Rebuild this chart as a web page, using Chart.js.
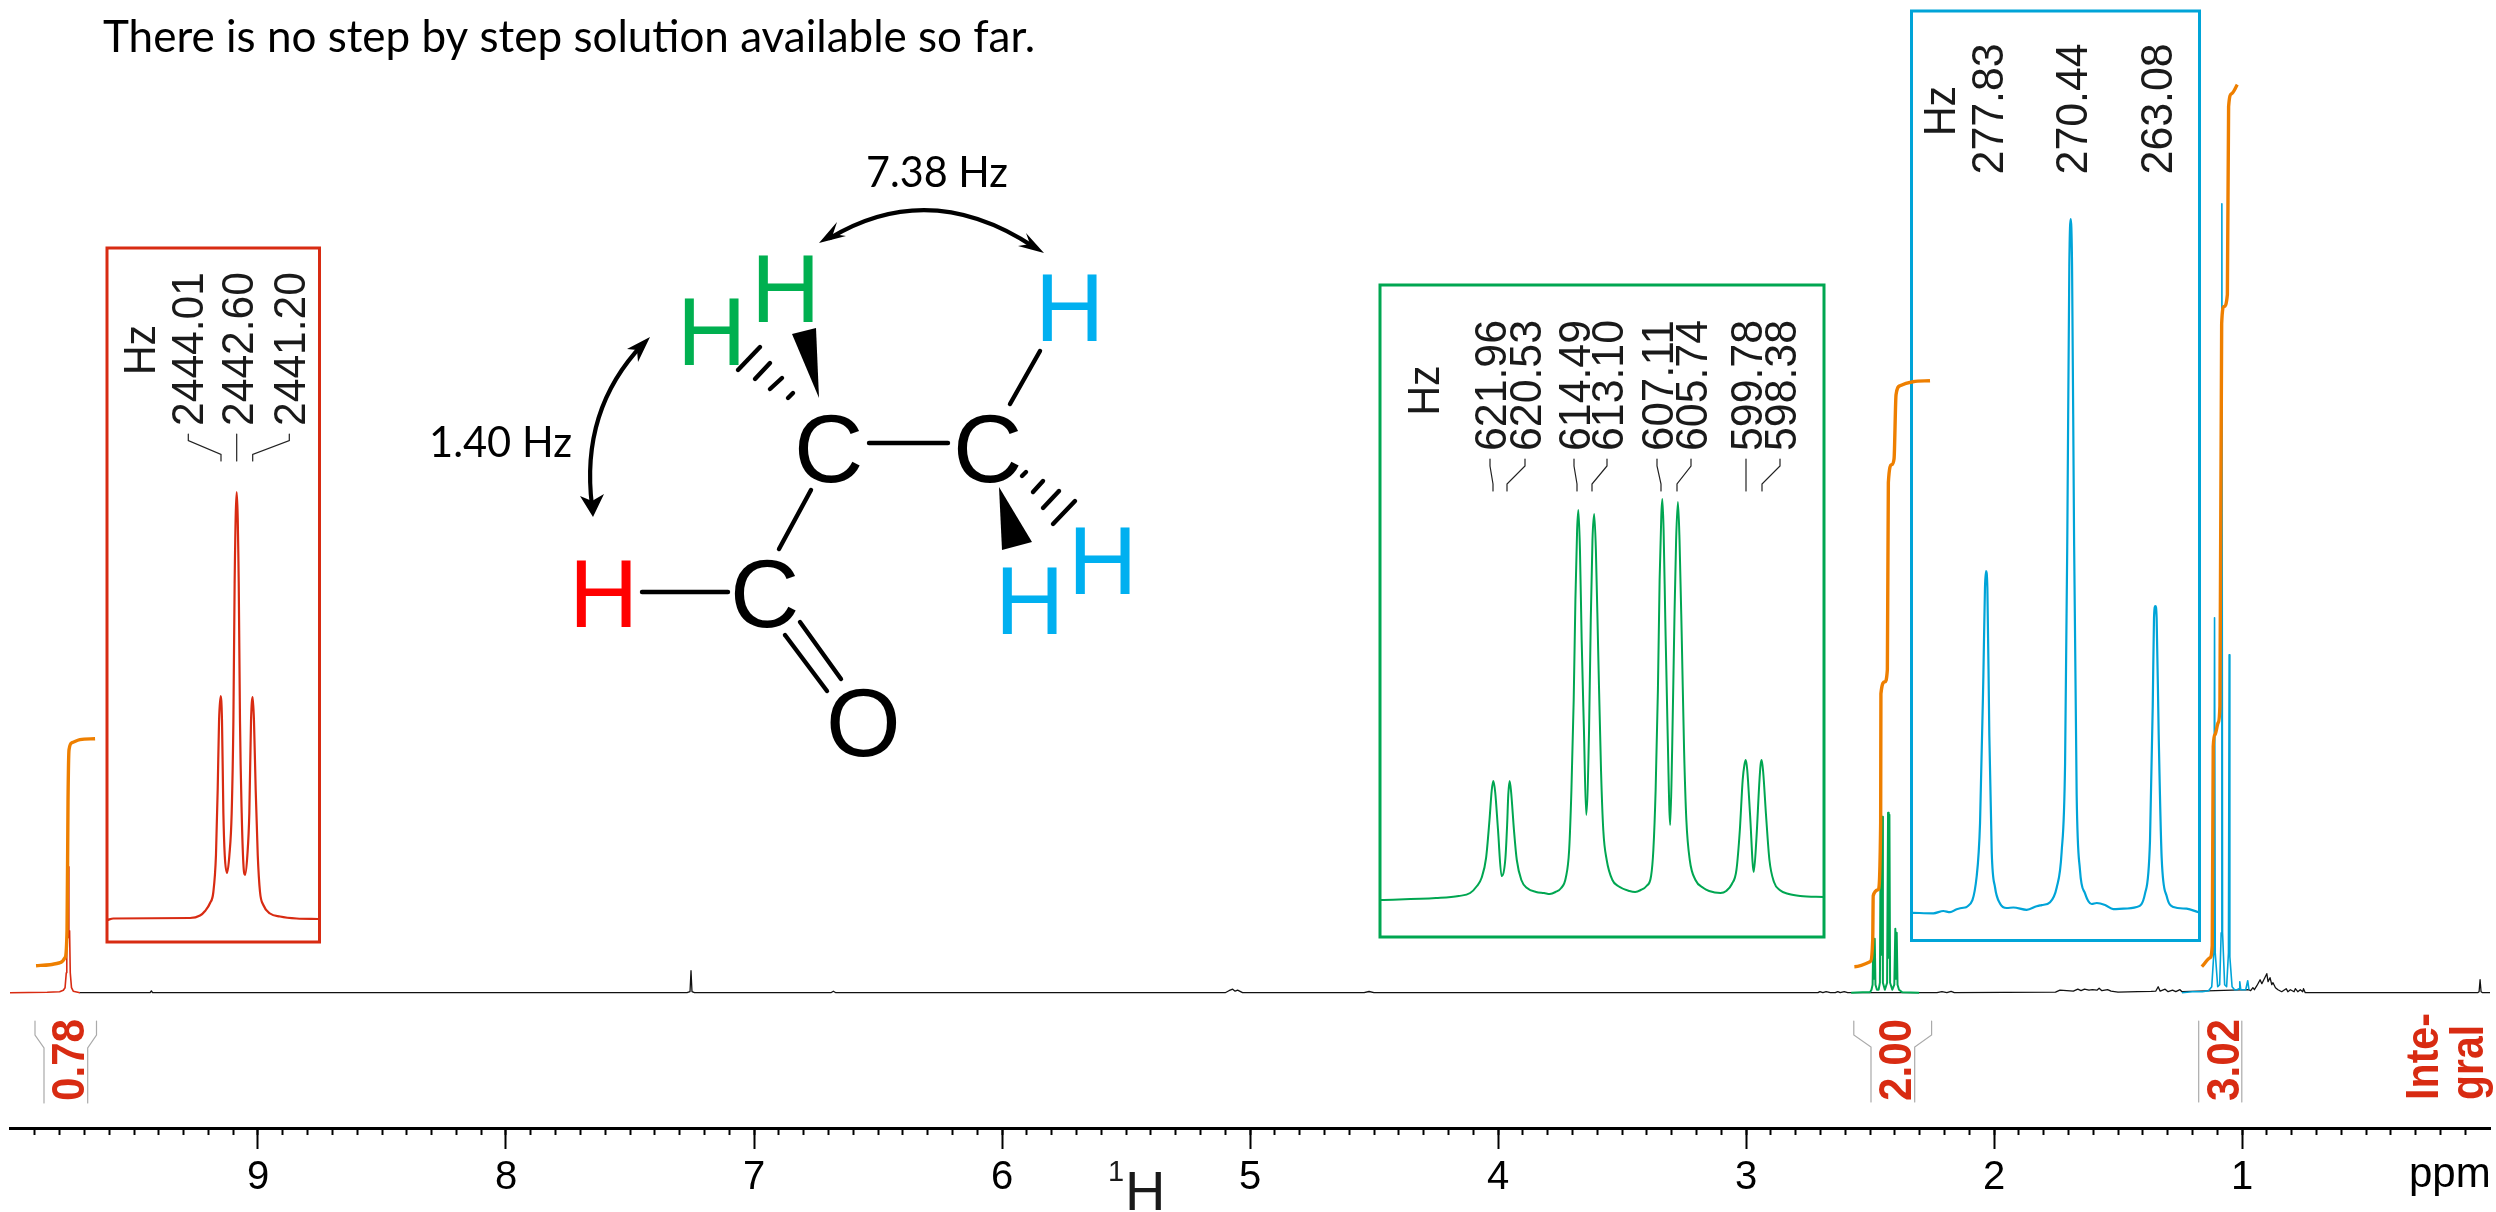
<!DOCTYPE html>
<html><head><meta charset="utf-8">
<style>html,body{margin:0;padding:0;background:#fff}canvas{display:block}</style>
<script src="https://cdn.jsdelivr.net/npm/chart.js@4"></script>
</head><body><canvas id="c" width="2496" height="1212"></canvas>
<script>
// ---------- main spectrum (ppm, height above baseline) ----------
const axisLabels = ['9','8','7','6','5','4','3','2','1'];
const blackPpm = [9.72,9.435,9.43,9.425,7.27,7.258,7.254,7.25,7.24,6.69,6.68,6.67,5.1,5.085,5.07,5.06,5.05,5.03,4.54,4.52,4.5,2.71,2.702,2.69,2.677,2.66,2.64,2.63,2.62,2.604,2.59,2.23,2.21,2.19,2.173,2.16,1.752,1.734,1.707,1.68,1.662,1.649,1.635,1.617,1.603,1.585,1.576,1.565,1.542,1.528,1.5,1.42,1.366,1.348,1.338,1.33,1.31,1.298,1.28,1.267,1.25,1.242,0.972,0.965,0.956,0.95,0.94,0.927,0.92,0.91,0.9,0.895,0.887,0.88,0.875,0.865,0.855,0.84,0.822,0.815,0.805,0.79,0.785,0.775,0.765,0.755,0.752,0.745,0.05,0.044,0.04,0.036,0.03,0];
const blackInt = [0,0,1.8,0,0,1,22,1,0,0,1.5,0,0,2,3.5,1.5,2.5,0,0,1.2,0,0,1,0,1,0,0,1,0,1,0,0,1,0,1.3,0,0.5,2.5,2,1.5,3.5,2,3.5,2.5,3,2.5,4.5,2,3,1.5,0.5,1,1.3,1.5,6,1.5,3.5,1,2.5,1,3,1,3,2,5,3,7,13,9,14,19,11,15,8,10,5,3,1,4,1,3,1,4,1,3,1,4,0,0,1,13,1,0,0];
const redPpm = [10,9.85,9.8,9.785,9.778,9.773,9.771,9.768,9.7654,9.7626,9.7598,9.757,9.752,9.745,9.718];
const redInt = [0,0.5,1,2.5,5,20,62,55,126,55,62,20,5,1.5,0];
const greenPpm = [2.576,2.53,2.5,2.494,2.4895,2.4866,2.4838,2.4809,2.478,2.472,2.465,2.46,2.4567,2.4539,2.4511,2.448,2.44,2.431,2.4272,2.4245,2.4217,2.419,2.41,2.402,2.3979,2.395,2.3923,2.389,2.383,2.37,2.302];
const greenInt = [0,0.5,0.5,3,8,54,14,54,8,3,3,10,176,38,176,10,3,10,180,35,178,10,3,8,64,14,60,8,3,0.5,0];
const bluePpm = [1.242,1.2,1.16,1.135,1.122,1.1135,1.1107,1.1079,1.098,1.09,1.084,1.0812,1.0784,1.07,1.062,1.0546,1.0518,1.049,1.04,1.03,1.02,1.012,1.009,1.005,0.985,0.977,0.972];
const blueInt = [0,1,1,2,6,40,375,40,6,8,60,789,60,8,6,40,338,36,6,3,3,4,11,3,3,12,3];
// ---------- integral curves ----------
const int1Ppm = [9.895,9.839,9.798,9.778,9.77,9.766,9.762,9.75,9.718,9.657];
const int1Val = [27,28,30,35,63,193,243,250,253,254];
const int2Ppm = [2.563,2.5,2.489,2.487,2.467,2.457,2.456,2.44,2.43,2.426,2.413,2.403,2.395,2.379,2.327,2.258];
const int2Val = [26,31,53,97,103,170,299,311,323,510,528,534,598,607,611,612];
const int3Ppm = [1.162,1.129,1.12,1.116,1.109,1.096,1.089,1.082,1.073,1.059,1.054,1.042,1.019];
const int3Val = [26,35,47,246,258,270,287,669,686,698,886,899,908];
// ---------- expanded multiplets (Hz, height) ----------
const insetRedHz = [2453.96,2453.44,2446.7,2445.82,2445.38,2444.94,2444.65,2444.42,2444.27,2444.15,2444.01,2443.89,2443.77,2443.65,2443.45,2443.24,2443.04,2442.89,2442.78,2442.6,2442.42,2442.31,2442.16,2442.01,2441.87,2441.66,2441.49,2441.34,2441.19,2441.08,2440.93,2440.75,2440.55,2440.26,2439.67,2438.79,2437.33,2435.42];
const insetRedH = [0,1.5,2,4.5,9,17,28,65,130,199,224,199,107,65,47,65,107,199,337,428,337,199,107,56,45,65,107,199,223,199,130,65,28,15,6.5,3.5,1.5,1];
const insetGreenHz = [631.9,627,625,624,623.4,623,622.6,622.3,622.1,621.96,621.8,621.55,621.24,620.9,620.75,620.65,620.53,620.4,620.15,619.9,619.5,619,618.2,617.5,617,616.5,616,615.6,615.3,615.1,614.9,614.75,614.6,614.49,614.35,614.2,614,613.8,613.55,613.4,613.25,613.1,612.95,612.75,612.5,612.3,612,611.5,611,610,609.5,609,608.5,608.1,607.9,607.7,607.5,607.35,607.2,607.11,607,606.85,606.65,606.42,606.25,606.05,605.9,605.74,605.6,605.4,605.2,605,604.7,604.2,603.5,603,602,601.5,601,600.6,600.3,600.05,599.9,599.78,599.65,599.4,599.08,598.85,598.6,598.48,598.38,598.25,598,597.7,597.3,596.8,596,595,592.9];
const insetGreenH = [0,2,4,7,14,22,42,80,110,119,108,70,24,42,75,105,119,108,70,40,20,12,8,7,6,8,12,22,50,110,200,300,370,390,350,260,170,85,170,280,360,386,350,250,130,70,40,20,14,9,8,10,14,24,50,110,210,320,385,401,370,280,170,75,150,280,360,398,360,260,150,80,40,20,12,9,7,9,16,30,70,120,135,140,130,85,28,60,115,135,140,128,85,40,18,10,6,4,3];
const insetBlueHz = [284.23,282.42,281.55,280.97,280.39,279.66,279.52,278.64,278.35,278.06,277.92,277.83,277.71,277.54,277.33,277.04,276.61,276.02,275.44,274.28,273.41,272.97,272.24,271.66,271.23,270.93,270.73,270.56,270.44,270.32,270.15,269.92,269.63,269.19,268.61,268.17,267.44,266.72,265.84,264.68,263.95,263.52,263.28,263.17,263.05,262.94,262.76,262.5,262.06,261.48,260.32,259.3];
const insetBlueH = [-1.8,-2.3,0,-1.2,1.8,3.5,4,35,88,235,323,340,323,176,59,23.5,7.6,3,3.5,1.2,4.7,5.9,8.8,23.5,59,147,381,645,692,645,381,117,41,17.6,7,8,6,1.8,2.3,4,17.6,70,205,293,305,293,176,53,14.7,4,2.3,-1.2];
// ---------- printed peak lists and integrals ----------
const redPeakLabels = ['2444.01','2442.60','2441.20'];
const greenPeakLabels = ['621.96','620.53','614.49','613.10','607.11','605.74','599.78','598.38'];
const bluePeakLabels = ['277.83','270.44','263.08'];
const integralLabels = ['0.78','2.00','3.02'];

const zip = (xs, ys) => xs.map((x, i) => ({x, y: ys[i]}));
const RED='#D82B12', GREEN='#00A651', BLUE='#00A4D8', ORANGE='#EE7F00', INK='#1a1a1a';
const SANS='"Liberation Sans"', HUM='Lato';

function txt(ctx,t,x,y,font,color,rot,maxW){
  ctx.save();ctx.font=font;ctx.fillStyle=color;ctx.textAlign='left';ctx.textBaseline='alphabetic';
  ctx.translate(x,y);if(rot)ctx.rotate(-Math.PI/2);
  if(maxW)ctx.fillText(t,0,0,maxW);else ctx.fillText(t,0,0);
  ctx.restore();
}
function path(ctx,pts,color,w,close,fill){
  ctx.save();ctx.beginPath();pts.forEach((p,i)=>i?ctx.lineTo(p[0],p[1]):ctx.moveTo(p[0],p[1]));
  if(close)ctx.closePath();
  if(fill){ctx.fillStyle=color;ctx.fill();}
  else{ctx.strokeStyle=color;ctx.lineWidth=w;ctx.lineCap='round';ctx.lineJoin='miter';ctx.stroke();}
  ctx.restore();
}
function arrowHead(ctx,tip,b1,notch,b2){path(ctx,[tip,b1,notch,b2],'#000',0,true,true);}

const drawings = {
  id:'drawings',
  beforeDatasetsDraw(chart){
    const c=chart.ctx;
    const box=(x0,y0,x1,y1,col)=>{c.save();c.strokeStyle=col;c.lineWidth=3;c.strokeRect(x0,y0,x1-x0,y1-y0);c.restore();};
    box(107,248,319.5,942,RED);
    box(1380,285,1824,937,GREEN);
    box(1911.5,11,2199.5,940.5,BLUE);
  },
  afterDatasetsDraw(chart){
    const c=chart.ctx;
    // header and coupling labels
    txt(c,'There is no step by step solution available so far.',103,52,`44px ${HUM}`,'#000',false,938);
    txt(c,'7.38 Hz',866,187,`43px ${HUM}`,'#000',false,142);
    txt(c,'1.40 Hz',429,457,`43px ${HUM}`,'#000',false,143);
    // peak lists
    const num=`45px ${SANS}`;
    txt(c,'Hz',155,375,num,INK,true,50);
    [203,253,305].forEach((x,i)=>txt(c,redPeakLabels[i],x,426,num,INK,true,154));
    txt(c,'Hz',1439,415.5,num,INK,true,50);
    [1506,1541,1590,1623,1673,1707,1762,1796].forEach((x,i)=>txt(c,greenPeakLabels[i],x,451,num,INK,true,131));
    txt(c,'Hz',1955,136,num,INK,true,50);
    [2002.7,2087.3,2172.3].forEach((x,i)=>txt(c,bluePeakLabels[i],x,174.4,num,INK,true,131));
    // connectors
    const k='#222';
    path(c,[[188.3,434],[188.3,440.6],[221,454.4],[221,461]],k,1.2);
    path(c,[[236.7,434],[236.7,461]],k,1.2);
    path(c,[[289.3,434],[289.3,440.6],[252.7,454.4],[252.7,461]],k,1.2);
    const gl=[1490,1525,1574,1607,1657,1691,1746,1780], gp=[1493,1507,1577,1592,1661,1677,1746,1762];
    gl.forEach((l,i)=>path(c,[[l,459],[l,466],[gp[i],484],[gp[i],491]],k,1.2));
    // integral brackets
    const g='#aaa';
    path(c,[[35,1021],[35,1035],[44,1048],[44,1103]],g,1.2);
    path(c,[[96.5,1021],[96.5,1035],[87.7,1048],[87.7,1103]],g,1.2);
    path(c,[[1853.8,1021],[1853.8,1035],[1871,1047],[1871,1102]],g,1.2);
    path(c,[[1931.6,1021],[1931.6,1035],[1914.7,1047],[1914.7,1102]],g,1.2);
    path(c,[[2198.7,1021],[2198.7,1102]],g,1.2);
    path(c,[[2241.8,1021],[2241.8,1102]],g,1.2);
    const bold=`bold 47px ${SANS}`;
    txt(c,integralLabels[0],83.7,1101,bold,RED,true,82);
    txt(c,integralLabels[1],1911,1101,bold,RED,true,82);
    txt(c,integralLabels[2],2239,1101,bold,RED,true,82);
    txt(c,'Inte-',2437.8,1100,bold,RED,true,87);
    txt(c,'gral',2483,1100,bold,RED,true,75);
    // axis caption
    txt(c,'ppm',2409,1187,`42px ${SANS}`,'#000',false);
    txt(c,'1',1108,1181,`29px ${SANS}`,INK,false);
    txt(c,'H',1125,1210,`56px ${SANS}`,INK,false);
    // molecule: atoms
    const at=`96px ${SANS}`;
    txt(c,'H',1035,341,at,'#00B0F0');
    txt(c,'H',1068,594,at,'#00B0F0');
    txt(c,'H',995,634,at,'#00B0F0');
    txt(c,'H',677,365,at,'#00B050');
    txt(c,'H',751,322,at,'#00B050');
    txt(c,'H',569,627,at,'#FF0000');
    txt(c,'C',953,482,at,'#000');
    txt(c,'C',794,482,at,'#000');
    txt(c,'C',730,627,at,'#000');
    txt(c,'O',826,756,at,'#000');
    // molecule: bonds
    const B=(a,b)=>path(c,[a,b],'#000',4.4);
    B([869,443],[948,443]);
    B([1010,404],[1040,351]);
    B([811,490],[779,549]);
    B([642,592],[728,592]);
    B([800,622],[841,679]);
    B([785,635],[827,691]);
    [[[1022,476],[1026,472]],[[1033,492],[1043,481]],[[1043,508],[1059,491]],[[1053,524],[1075,501]]].forEach(s=>B(s[0],s[1]));
    [[[788,398],[793,393]],[[770,389],[782,378]],[[755,379],[770,363]],[[738,370],[760,347]]].forEach(s=>B(s[0],s[1]));
    path(c,[[999,487],[1032,542],[1002,550]],'#000',0,true,true);
    path(c,[[819,398],[792,334],[816,328]],'#000',0,true,true);
    // coupling arrows
    c.save();c.strokeStyle='#000';c.lineWidth=4.2;c.lineCap='round';
    c.beginPath();c.moveTo(830,238);c.quadraticCurveTo(930,178,1034,247);c.stroke();
    c.beginPath();c.moveTo(643,344);c.quadraticCurveTo(580,410,592,506);c.stroke();
    c.restore();
    arrowHead(c,[1044,253],[1026,233],[1030,244],[1018,246]);
    arrowHead(c,[819,243],[837,222],[833,234],[846,236]);
    arrowHead(c,[650,337],[627,349],[637,350],[638,362]);
    arrowHead(c,[593,517],[580,496],[592,501],[604,494]);
  }
};

const line=(label,xs,ys,color,w,xId,yId,order,smooth)=>({label,data:zip(xs,ys),borderColor:color,borderWidth:w,pointRadius:0,
  xAxisID:xId,yAxisID:yId,order,fill:false,tension:0,cubicInterpolationMode:smooth?'monotone':'default',borderJoinStyle:'round'});
const hiddenX=(min,max)=>({type:'linear',display:false,reverse:true,min,max});
const hiddenY=(min,max)=>({type:'linear',display:false,min,max});
const skipEdge=v=>(Math.abs(v)<1e-6||Math.abs(v-10)<1e-6);

new Chart(document.getElementById('c'),{
  type:'line',
  data:{datasets:[
    line('Integral 1',int1Ppm,int1Val,ORANGE,3.4,'x','y',1,true),
    line('Integral 2',int2Ppm,int2Val,ORANGE,3.4,'x','y',1,true),
    line('Integral 3',int3Ppm,int3Val,ORANGE,3.4,'x','y',1,true),
    line('H-1 inset',insetRedHz,insetRedH,RED,2.2,'xRed','yRed',2,true),
    line('H-2 inset',insetGreenHz,insetGreenH,GREEN,2,'xGreen','yGreen',2,true),
    line('H-3 inset',insetBlueHz,insetBlueH,BLUE,2.2,'xBlue','yBlue',2,true),
    line('H-1',redPpm,redInt,RED,1.6,'x','y',3),
    line('H-2',greenPpm,greenInt,GREEN,2,'x','y',3),
    line('H-3',bluePpm,blueInt,BLUE,1.6,'x','y',3),
    line('Spectrum',blackPpm,blackInt,'#111',1.3,'x','y',4)
  ]},
  options:{
    responsive:false,animation:false,devicePixelRatio:1,
    layout:{padding:{left:10,right:6,top:0,bottom:0}},
    plugins:{legend:{display:false},tooltip:{enabled:false},title:{display:false}},
    scales:{
      x:{type:'linear',reverse:true,min:0,max:10,position:'bottom',
        afterFit(s){s.height=84;},
        border:{display:true,color:'#000',width:3},
        grid:{drawOnChartArea:false,drawTicks:true,tickLength:21,tickWidth:2,tickColor:ctx=>skipEdge(ctx.tick.value)?'rgba(0,0,0,0)':'#000'},
        ticks:{stepSize:1,autoSkip:false,maxRotation:0,padding:5,color:'#000',font:{family:'Liberation Sans',size:40},
          callback:v=>{const i=axisLabels.indexOf(String(v));return i<0?'':axisLabels[i];}}},
      xMinor:{type:'linear',reverse:true,min:0,max:10,position:{y:-135.3},
        border:{display:false},
        grid:{drawOnChartArea:false,drawTicks:true,tickLength:7,tickWidth:2,tickColor:ctx=>skipEdge(ctx.tick.value)?'rgba(0,0,0,0)':'#000'},
        ticks:{stepSize:0.1,autoSkip:false,display:false}},
      y:{type:'linear',display:false,min:-135.3,max:992.7},
      xRed:hiddenX(2244.59,2462.52),yRed:hiddenY(-208,920),
      xGreen:hiddenX(534.38,752.31),yGreen:hiddenY(-228,900),
      xBlue:hiddenX(233.85,450.26),yBlue:hiddenY(-217,911)
    }
  },
  plugins:[drawings]
});
</script></body></html>
